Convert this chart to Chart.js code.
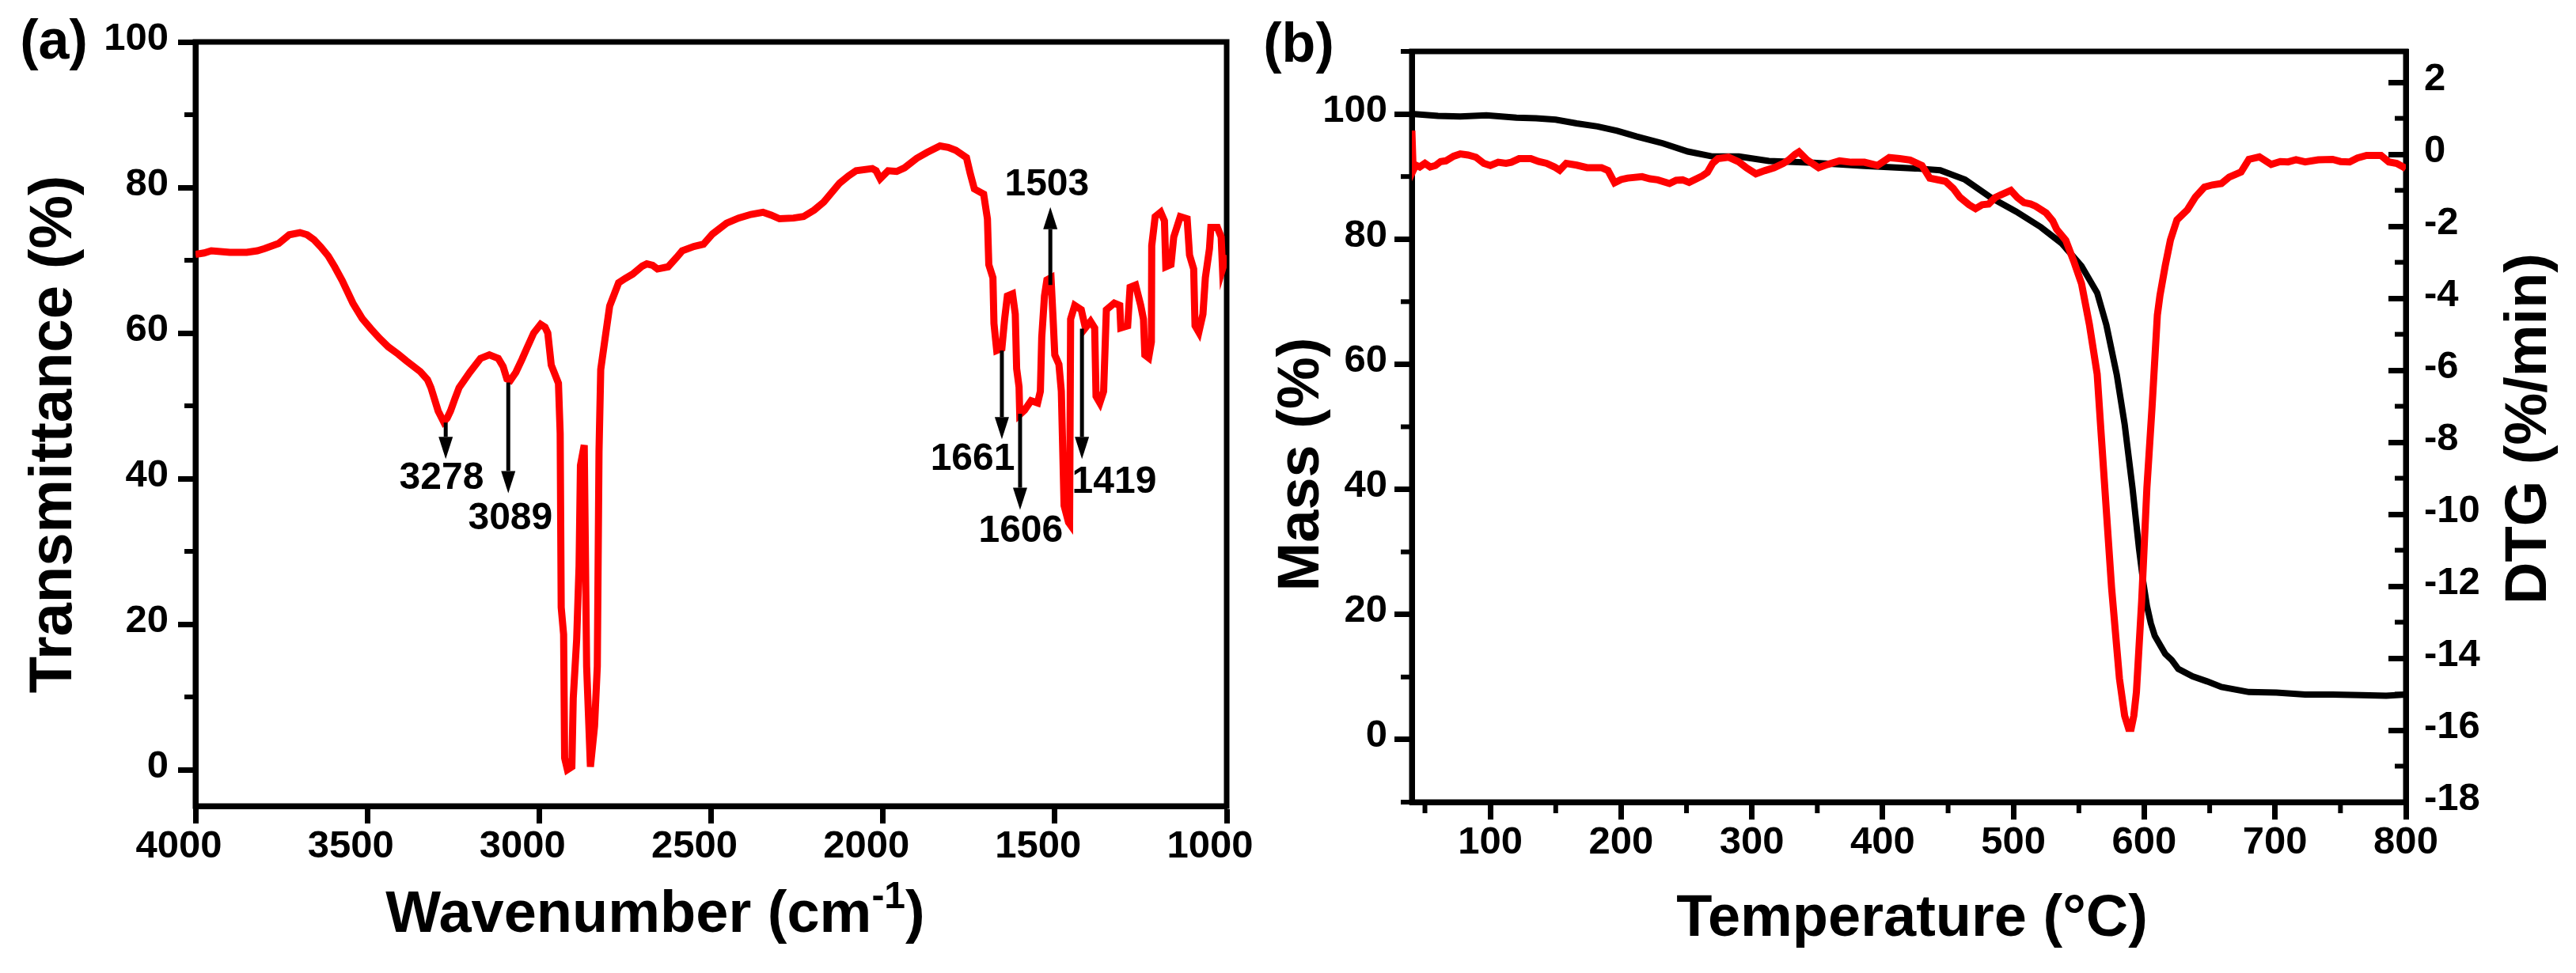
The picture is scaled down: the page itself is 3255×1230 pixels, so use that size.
<!DOCTYPE html>
<html>
<head>
<meta charset="utf-8">
<title>FTIR and TGA/DTG</title>
<script src="https://cdn.jsdelivr.net/npm/chart.js@4.4.1/dist/chart.umd.min.js"></script>
<style>
  html, body { margin: 0; padding: 0; background: #fff; }
  #wrap { position: relative; width: 3255px; height: 1230px; overflow: hidden; background: #fff; }
  #wrap canvas { position: absolute; left: 0; top: 0; width: 3255px; height: 1230px; }
</style>
</head>
<body>
<div id="wrap">
  <canvas id="chart-ftir" width="3255" height="1230"></canvas>
  <canvas id="chart-tga" width="3255" height="1230"></canvas>
</div>
<script>
// --- panel (a): FTIR spectrum ---
const ftirWavenumber = [
  4000, 3975, 3954, 3900, 3851, 3820, 3799, 3758, 3727, 3696,
  3675, 3655, 3635, 3614, 3595, 3573, 3542, 3515, 3490, 3465,
  3439, 3410, 3387, 3346, 3325, 3315, 3294, 3278, 3268, 3258,
  3245, 3233, 3202, 3171, 3145, 3119, 3105, 3094, 3084, 3068,
  3050, 3037, 3016, 2996, 2983, 2975, 2965, 2944, 2939, 2936,
  2929, 2926, 2918, 2905, 2901, 2891, 2884, 2880, 2869, 2862,
  2851, 2839, 2831, 2826, 2821, 2810, 2795, 2769, 2750, 2728,
  2700, 2687, 2670, 2656, 2625, 2600, 2584, 2550, 2522, 2496,
  2455, 2420, 2384, 2349, 2325, 2301, 2260, 2231, 2200, 2172,
  2126, 2100, 2078, 2031, 2020, 2008, 1985, 1960, 1937, 1902,
  1872, 1834, 1810, 1788, 1757, 1746, 1734, 1707, 1696, 1692,
  1680, 1677, 1669, 1654, 1646, 1638, 1623, 1615, 1611, 1604,
  1602, 1588, 1569, 1550, 1542, 1538, 1530, 1523, 1511, 1505,
  1500, 1488, 1481, 1473, 1460, 1457, 1454, 1442, 1423, 1411,
  1396, 1384, 1380, 1369, 1358, 1350, 1327, 1311, 1308, 1288,
  1281, 1265, 1250, 1242, 1238, 1227, 1219, 1218, 1208, 1192,
  1181, 1177, 1162, 1154, 1135, 1115, 1108, 1096, 1092, 1081,
  1069, 1062, 1050, 1046, 1027, 1016, 1012, 1000
];
const ftirTransmittance = [
  70.8, 71.0, 71.3, 71.1, 71.1, 71.3, 71.6, 72.3, 73.5, 73.8,
  73.5, 72.8, 71.8, 70.6, 69.1, 67.2, 64.1, 62.0, 60.6, 59.3,
  58.1, 57.1, 56.2, 54.7, 53.6, 52.5, 49.3, 47.8, 48.3, 49.3,
  51.0, 52.5, 54.6, 56.5, 57.0, 56.5, 55.4, 53.7, 53.5, 54.6,
  56.4, 57.8, 60.0, 61.2, 60.8, 60.0, 55.6, 53.1, 46.2, 22.3,
  18.6, 1.6, 0.0, 0.4, 9.8, 17.9, 28.0, 41.8, 44.6, 14.2,
  0.4, 6.0, 14.2, 43.7, 55.0, 58.7, 63.7, 66.9, 67.5, 68.1,
  69.2, 69.5, 69.3, 68.8, 69.1, 70.4, 71.3, 71.9, 72.2, 73.6,
  75.1, 75.8, 76.3, 76.6, 76.2, 75.7, 75.8, 76.0, 76.9, 78.0,
  80.6, 81.6, 82.3, 82.6, 82.3, 81.2, 82.3, 82.2, 82.7, 84.0,
  84.8, 85.7, 85.5, 85.1, 84.1, 81.9, 79.8, 79.1, 75.7, 69.4,
  67.6, 61.3, 57.6, 57.9, 61.9, 65.1, 65.4, 62.6, 55.1, 52.6,
  48.8, 49.4, 50.7, 50.4, 52.0, 59.4, 65.1, 67.3, 67.6, 62.0,
  57.0, 55.7, 52.0, 36.3, 34.0, 33.8, 61.9, 63.8, 63.2, 60.7,
  61.6, 60.7, 51.3, 50.4, 52.0, 63.2, 64.1, 63.8, 60.7, 61.0,
  66.3, 66.6, 63.8, 61.9, 57.0, 56.6, 58.8, 72.0, 76.0, 76.6,
  75.4, 69.1, 69.4, 73.2, 76.0, 75.7, 70.7, 68.8, 61.0, 60.1,
  62.6, 67.6, 71.6, 74.5, 74.5, 73.2, 68.8, 70.7
];

// --- panel (b): TGA mass and DTG ---
const tgaTemperature = [
  40, 60, 77, 97, 120, 135, 150, 166, 182, 197,
  212, 232, 251, 270, 290, 313, 347, 386, 425, 444,
  463, 483, 502, 521, 537, 552, 564, 571, 579, 585,
  591, 596, 599, 602, 605, 608, 616, 621, 626, 637,
  648, 659, 680, 701, 723, 744, 766, 785, 800
];
const tgaMass = [
  100.0, 99.7, 99.6, 99.8, 99.4, 99.3, 99.1, 98.5, 98.0, 97.3,
  96.4, 95.3, 94.0, 93.2, 93.2, 92.5, 92.2, 91.7, 91.3, 91.0,
  89.5, 86.6, 84.4, 81.9, 79.3, 75.7, 71.4, 66.3, 58.3, 50.4,
  40.2, 30.5, 25.5, 21.4, 18.6, 16.6, 13.7, 12.7, 11.3, 10.1,
  9.3, 8.4, 7.6, 7.5, 7.2, 7.2, 7.1, 7.0, 7.2
];
const dtgTemperature = [
  40, 41, 43, 46, 50, 54, 58, 62, 66, 72,
  77, 83, 89, 95, 100, 106, 112, 116, 122, 131,
  137, 143, 149, 153, 158, 166, 174, 185, 190, 195,
  200, 205, 216, 222, 228, 237, 242, 247, 252, 257,
  262, 266, 270, 274, 282, 290, 296, 303, 310, 317,
  324, 328, 333, 336, 342, 351, 358, 367, 376, 386,
  396, 405, 413, 421, 430, 436, 448, 454, 459, 466,
  471, 476, 481, 486, 490, 498, 503, 508, 513, 517,
  525, 530, 533, 540, 546, 552, 558, 564, 567, 571,
  575, 581, 585, 588, 590, 592, 594, 598, 602, 606,
  610, 612, 616, 620, 625, 633, 639, 646, 652, 659,
  665, 674, 680, 688, 697, 704, 710, 716, 723, 733,
  744, 750, 757, 763, 770, 781, 787, 793, 798, 800
];
const dtgRate = [
  0.66, -0.45, -0.30, -0.35, -0.25, -0.35, -0.31, -0.20, -0.18, -0.05,
  0.01, -0.02, -0.08, -0.25, -0.31, -0.22, -0.25, -0.22, -0.12, -0.12,
  -0.20, -0.25, -0.35, -0.44, -0.25, -0.30, -0.37, -0.37, -0.45, -0.79,
  -0.70, -0.66, -0.62, -0.68, -0.71, -0.81, -0.72, -0.71, -0.78, -0.69,
  -0.60, -0.50, -0.25, -0.12, -0.08, -0.21, -0.38, -0.54, -0.45, -0.37,
  -0.25, -0.16, 0.00, 0.07, -0.15, -0.37, -0.28, -0.18, -0.22, -0.22,
  -0.31, -0.09, -0.12, -0.16, -0.31, -0.66, -0.75, -0.95, -1.19, -1.40,
  -1.51, -1.40, -1.38, -1.20, -1.13, -1.00, -1.20, -1.34, -1.38, -1.44,
  -1.63, -1.85, -2.08, -2.39, -2.96, -3.59, -4.72, -6.11, -7.75, -9.90,
  -12.04, -14.56, -15.60, -15.95, -15.95, -15.60, -14.94, -12.42, -9.27, -6.99,
  -4.47, -3.92, -3.10, -2.38, -1.82, -1.54, -1.19, -0.91, -0.85, -0.81,
  -0.63, -0.49, -0.14, -0.07, -0.28, -0.20, -0.21, -0.15, -0.21, -0.15,
  -0.14, -0.20, -0.21, -0.10, -0.03, -0.03, -0.21, -0.25, -0.35, -0.40
];

// tick labels
const ftirXTicks = [4000, 3500, 3000, 2500, 2000, 1500, 1000];
const ftirYTicks = [0, 20, 40, 60, 80, 100];
const tempTicks = [100, 200, 300, 400, 500, 600, 700, 800];
const massTicks = [0, 20, 40, 60, 80, 100];
const dtgTicks = [-18, -16, -14, -12, -10, -8, -6, -4, -2, 0, 2];

// peak markers on the FTIR spectrum (arrow from curve -> label)
const peakLabels = ['3278', '3089', '1661', '1606', '1503', '1419'];
const peakArrowX = [3272, 3090, 1654, 1601, 1513, 1421];
const peakArrowFrom = [47.7, 53.2, 57.6, 48.9, 66.6, 60.6];
const peakArrowTo = [42.7, 38.0, 45.4, 35.7, 77.3, 42.7];
const peakLabelX = [3284, 3084, 1739, 1599, 1523, 1327];
const peakLabelY = [40.0, 34.5, 42.6, 32.7, 80.4, 39.5];

const FONT = '"Liberation Sans", Arial, Helvetica, sans-serif';
Chart.defaults.font.family = FONT;
Chart.defaults.font.weight = 'bold';
Chart.defaults.color = '#000';

const toPoints = (xs, ys) => xs.map((v, i) => ({ x: v, y: ys[i] }));

// one axis, ticks fixed from a tick array, box size fixed so the plot area lands where it should
function axis(ticks, o) {
  return {
    type: 'linear',
    position: o.position,
    min: o.min,
    max: o.max,
    reverse: !!o.reverse,
    afterBuildTicks: s => { s.ticks = ticks.map(v => ({ value: v })); },
    afterFit: s => {
      if (s.isHorizontal()) s.height = o.size; else s.width = o.size;
      s.paddingLeft = s.paddingRight = s.paddingTop = s.paddingBottom = 0;
    },
    border: { display: true, color: '#000', width: 7 },
    grid: { drawOnChartArea: false, drawTicks: true, tickLength: o.tickLength || 22, tickWidth: 7, tickColor: '#000' },
    ticks: {
      color: '#000', font: { size: 49, weight: 'bold' },
      padding: o.padding, labelOffset: o.labelOffset || 0,
      maxRotation: 0, minRotation: 0, autoSkip: false,
      callback: v => String(v)
    }
  };
}

// box round the plot area
const framePlugin = {
  id: 'frame',
  beforeDatasetsDraw(chart) {
    const { ctx, chartArea: a } = chart;
    ctx.save();
    ctx.strokeStyle = '#000';
    ctx.lineWidth = 7;
    ctx.strokeRect(a.left, a.top, a.right - a.left, a.bottom - a.top);
    ctx.restore();
  }
};

// half-step minor ticks (out on left/bottom, in on right)
function minorTicks(ids) {
  return {
    id: 'minorTicks',
    beforeDatasetsDraw(chart) {
      const { ctx, chartArea: a } = chart;
      ctx.save();
      ctx.strokeStyle = '#000';
      ctx.lineWidth = 6;
      ids.forEach(id => {
        const s = chart.scales[id];
        const vals = s.ticks.map(t => t.value);
        const step = vals[1] - vals[0];
        const lo = Math.min(s.min, s.max) - 1e-6, hi = Math.max(s.min, s.max) + 1e-6;
        for (let v = vals[0] - step / 2; v <= vals[vals.length - 1] + step / 2 + 1e-6; v += step) {
          if (v < lo || v > hi) continue;
          const p = s.getPixelForValue(v);
          ctx.beginPath();
          if (s.position === 'bottom') { ctx.moveTo(p, a.bottom); ctx.lineTo(p, a.bottom + 14); }
          else if (s.position === 'left') { ctx.moveTo(a.left, p); ctx.lineTo(a.left - 14, p); }
          else { ctx.moveTo(a.right, p); ctx.lineTo(a.right - 14, p); }
          ctx.stroke();
        }
      });
      ctx.restore();
    }
  };
}

// axis titles and panel letters (parts: [text, size, rise])
function textPlugin(items) {
  return {
    id: 'axisText',
    afterDraw(chart) {
      const ctx = chart.ctx;
      items.forEach(it => {
        ctx.save();
        ctx.fillStyle = '#000';
        ctx.translate(it.x, it.y);
        ctx.rotate(it.rotate || 0);
        ctx.textAlign = 'left';
        ctx.textBaseline = 'alphabetic';
        let total = 0;
        const parts = it.parts.map(([text, size, rise]) => {
          ctx.font = `bold ${size}px ${FONT}`;
          const w = ctx.measureText(text).width;
          total += w;
          return { text, size, rise: rise || 0, w };
        });
        let x = -total / 2;
        parts.forEach(p => {
          ctx.font = `bold ${p.size}px ${FONT}`;
          ctx.fillText(p.text, x, -p.rise);
          x += p.w;
        });
        ctx.restore();
      });
    }
  };
}

const peakArrowPlugin = {
  id: 'peakArrows',
  afterDatasetsDraw(chart) {
    const { ctx, scales: { x, y } } = chart;
    ctx.save();
    ctx.strokeStyle = '#000';
    ctx.fillStyle = '#000';
    ctx.lineWidth = 5;
    peakLabels.forEach((label, i) => {
      const px = x.getPixelForValue(peakArrowX[i]);
      const y0 = y.getPixelForValue(peakArrowFrom[i]);
      const y1 = y.getPixelForValue(peakArrowTo[i]);
      const dir = Math.sign(y1 - y0);
      const head = 28;
      ctx.beginPath();
      ctx.moveTo(px, y0);
      ctx.lineTo(px, y1 - dir * head);
      ctx.stroke();
      ctx.beginPath();
      ctx.moveTo(px, y1);
      ctx.lineTo(px - 9, y1 - dir * head);
      ctx.lineTo(px + 9, y1 - dir * head);
      ctx.closePath();
      ctx.fill();
      ctx.font = `bold 48px ${FONT}`;
      ctx.textAlign = 'center';
      ctx.textBaseline = 'middle';
      ctx.fillText(label, x.getPixelForValue(peakLabelX[i]), y.getPixelForValue(peakLabelY[i]));
    });
    ctx.restore();
  }
};

const common = {
  responsive: false,
  animation: false,
  events: [],
  plugins: { legend: { display: false }, tooltip: { enabled: false } }
};

// (a) FTIR
new Chart(document.getElementById('chart-ftir'), {
  type: 'line',
  data: {
    datasets: [{
      data: toPoints(ftirWavenumber, ftirTransmittance),
      borderColor: '#ff0000', borderWidth: 9, pointRadius: 0, tension: 0, fill: false
    }]
  },
  options: Object.assign({}, common, {
    layout: { padding: { top: 53, right: 3255 - 1550, left: 0, bottom: 0 } },
    scales: {
      x: axis(ftirXTicks, { position: 'bottom', min: 1000, max: 4000, reverse: true, size: 211, padding: 0, labelOffset: -21 }),
      y: axis(ftirYTicks, { position: 'left', min: -5, max: 100, size: 247, padding: 12, labelOffset: -4 })
    }
  }),
  plugins: [
    framePlugin,
    minorTicks(['x', 'y']),
    peakArrowPlugin,
    textPlugin([
      { parts: [['(a)', 70]], x: 68, y: 74 },
      { parts: [['Transmittance (%)', 76]], x: 90, y: 549, rotate: -Math.PI / 2 },
      { parts: [['Wavenumber (cm', 74], ['-1', 48, 30], [')', 74]], x: 828, y: 1178 }
    ])
  ]
});

// (b) TGA / DTG
new Chart(document.getElementById('chart-tga'), {
  type: 'line',
  data: {
    datasets: [
      {
        label: 'DTG',
        data: toPoints(dtgTemperature, dtgRate),
        yAxisID: 'y1',
        borderColor: '#ff0000', borderWidth: 9, pointRadius: 0, tension: 0, fill: false
      },
      {
        label: 'Mass',
        data: toPoints(tgaTemperature, tgaMass),
        yAxisID: 'y',
        borderColor: '#000000', borderWidth: 8, pointRadius: 0, tension: 0, fill: false
      }
    ]
  },
  options: Object.assign({}, common, {
    layout: { padding: { top: 65, left: 1600, right: 0, bottom: 0 } },
    scales: {
      x: axis(tempTicks, { position: 'bottom', min: 40, max: 800, size: 216, padding: 0 }),
      y: axis(massTicks, { position: 'left', min: -10, max: 110, size: 184, padding: 9, labelOffset: -4 }),
      y1: axis(dtgTicks, { position: 'right', min: -18, max: 2.86, size: 215, tickLength: -22, padding: 45, labelOffset: -4 })
    }
  }),
  plugins: [
    framePlugin,
    minorTicks(['x', 'y', 'y1']),
    textPlugin([
      { parts: [['(b)', 70]], x: 1641, y: 78 },
      { parts: [['Mass (%)', 74]], x: 1666, y: 587, rotate: -Math.PI / 2 },
      { parts: [['DTG (%/min)', 74]], x: 3217, y: 542, rotate: -Math.PI / 2 },
      { parts: [['Temperature (°C)', 74]], x: 2416, y: 1183 }
    ])
  ]
});
</script>
</body>
</html>
